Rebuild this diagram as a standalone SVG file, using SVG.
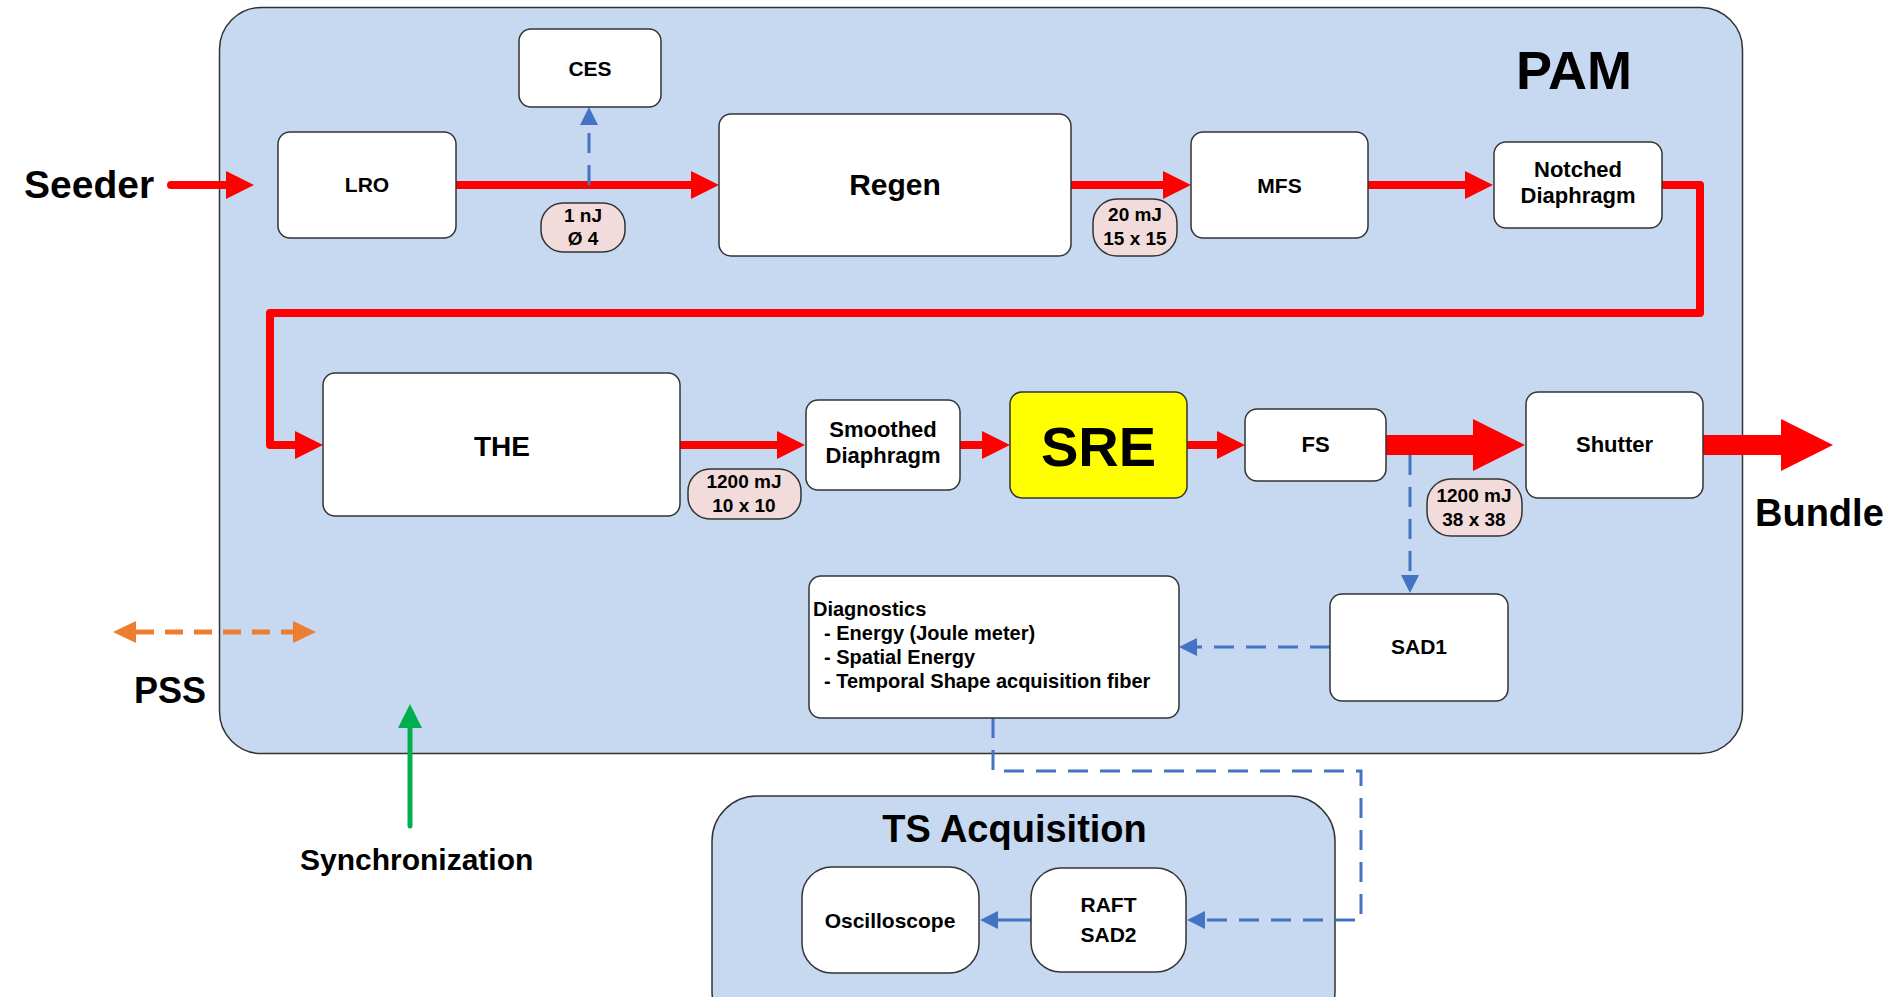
<svg xmlns="http://www.w3.org/2000/svg" width="1891" height="997" viewBox="0 0 1891 997">
<style>
  text { font-family: "Liberation Sans", Arial, sans-serif; font-weight: bold; fill: #000; }
  .c { text-anchor: middle; }
  .box { fill: #ffffff; stroke: #333333; stroke-width: 1.5; }
  .pill { fill: #f2dcdb; stroke: #333333; stroke-width: 1.5; }
  .cont { fill: #c6d9f0; stroke: #333333; stroke-width: 1.5; }
  .red { fill: none; stroke: #ff0000; stroke-width: 8; }
  .redthick { fill: none; stroke: #ff0000; stroke-width: 20; }
  .bdash { fill: none; stroke: #4472c4; stroke-width: 3; stroke-dasharray: 20 12; }
  .bsolid { fill: none; stroke: #4472c4; stroke-width: 3; }
  .odash { fill: none; stroke: #ed7d31; stroke-width: 5; stroke-dasharray: 18 11; }
  .green { fill: none; stroke: #00b050; stroke-width: 5; stroke-linecap: round; }
  .n { font-size: 21px; }
  .l { font-size: 19px; }
</style>
<defs>
  <marker id="hr" markerUnits="userSpaceOnUse" viewBox="0 -14 28 28" refX="0" refY="0" markerWidth="28" markerHeight="28" orient="auto">
    <polygon points="0,-14 28,0 0,14" fill="#ff0000"/>
  </marker>
  <marker id="hrt" markerUnits="userSpaceOnUse" viewBox="0 -26 52 52" refX="0" refY="0" markerWidth="52" markerHeight="52" orient="auto">
    <polygon points="0,-26 52,0 0,26" fill="#ff0000"/>
  </marker>
  <marker id="hb" markerUnits="userSpaceOnUse" viewBox="0 -9 18 18" refX="0" refY="0" markerWidth="18" markerHeight="18" orient="auto">
    <polygon points="0,-9 18,0 0,9" fill="#4472c4"/>
  </marker>
  <marker id="ho" markerUnits="userSpaceOnUse" viewBox="0 -11 23 22" refX="0" refY="0" markerWidth="23" markerHeight="22" orient="auto-start-reverse">
    <polygon points="0,-11 23,0 0,11" fill="#ed7d31"/>
  </marker>
  <marker id="hg" markerUnits="userSpaceOnUse" viewBox="0 -12 24 24" refX="0" refY="0" markerWidth="24" markerHeight="24" orient="auto">
    <polygon points="0,-12 24,0 0,12" fill="#00b050"/>
  </marker>
</defs>

<g id="pam">
  <rect class="cont" x="219.5" y="7.5" width="1523" height="746" rx="42"/>
  <text class="c" x="1574" y="89" font-size="54">PAM</text>
</g>
<g id="ts-acquisition">
  <rect class="cont" x="712" y="796" width="623" height="240" rx="45"/>
  <text class="c" x="1014.5" y="842" font-size="38">TS Acquisition</text>
</g>

<g id="connectors">
  <path class="red" d="M171,185 H226" stroke-linecap="round" marker-end="url(#hr)"/>
  <path class="red" d="M456,185 H691" marker-end="url(#hr)"/>
  <path class="red" d="M1071,185 H1163" marker-end="url(#hr)"/>
  <path class="red" d="M1368,185 H1465" marker-end="url(#hr)"/>
  <path class="red" d="M1662,185 H1700 V313 H270 V445 H295" stroke-linejoin="round" marker-end="url(#hr)"/>
  <path class="red" d="M680,445 H777" marker-end="url(#hr)"/>
  <path class="red" d="M960,445 H982" marker-end="url(#hr)"/>
  <path class="red" d="M1187,445 H1217" marker-end="url(#hr)"/>
  <path class="redthick" d="M1386,445 H1473" marker-end="url(#hrt)"/>
  <path class="redthick" d="M1703,445 H1781" marker-end="url(#hrt)"/>
  <path class="bdash" d="M589,185 V125" stroke-width="2.5" stroke-dasharray="16 10" marker-end="url(#hb)"/>
  <path class="bdash" d="M1410,455 V575" marker-end="url(#hb)"/>
  <path class="bdash" d="M1330,647 H1197" marker-end="url(#hb)"/>
  <path class="bdash" d="M993,718 V771 H1361 V920 H1205" marker-end="url(#hb)"/>
  <path class="bsolid" d="M1031,920 H998" marker-end="url(#hb)"/>
  <path class="odash" d="M136,632 H293" marker-start="url(#ho)" marker-end="url(#ho)"/>
  <path class="green" d="M410,826 V728" marker-end="url(#hg)"/>
</g>

<g id="labels">
  <text x="24" y="198" font-size="39">Seeder</text>
  <text x="1755" y="526" font-size="38">Bundle</text>
  <text x="134" y="703" font-size="36">PSS</text>
  <text x="300" y="870" font-size="30">Synchronization</text>
</g>

<g id="lro"><rect class="box" x="278" y="132" width="178" height="106" rx="12"/><text class="c n" x="367" y="192">LRO</text></g>
<g id="ces"><rect class="box" x="519" y="29" width="142" height="78" rx="12"/><text class="c n" x="590" y="76">CES</text></g>
<g id="regen"><rect class="box" x="719" y="114" width="352" height="142" rx="12"/><text class="c" x="895" y="195" font-size="30">Regen</text></g>
<g id="mfs"><rect class="box" x="1191" y="132" width="177" height="106" rx="12"/><text class="c n" x="1279.5" y="193">MFS</text></g>
<g id="notched-diaphragm"><rect class="box" x="1494" y="142" width="168" height="86" rx="12"/><text class="c" x="1578" y="177" font-size="22">Notched</text><text class="c" x="1578" y="203" font-size="22">Diaphragm</text></g>
<g id="the"><rect class="box" x="323" y="373" width="357" height="143" rx="12"/><text class="c" x="502" y="456" font-size="28">THE</text></g>
<g id="smoothed-diaphragm"><rect class="box" x="806" y="400" width="154" height="90" rx="12"/><text class="c" x="883" y="437" font-size="22">Smoothed</text><text class="c" x="883" y="463" font-size="22">Diaphragm</text></g>
<g id="sre"><rect class="box" x="1010" y="392" width="177" height="106" rx="12" style="fill:#ffff00"/><text class="c" x="1098.5" y="466" font-size="56">SRE</text></g>
<g id="fs"><rect class="box" x="1245" y="409" width="141" height="72" rx="12"/><text class="c" x="1315.5" y="452" font-size="22">FS</text></g>
<g id="shutter"><rect class="box" x="1526" y="392" width="177" height="106" rx="12"/><text class="c" x="1614.5" y="452" font-size="22">Shutter</text></g>
<g id="sad1"><rect class="box" x="1330" y="594" width="178" height="107" rx="12"/><text class="c n" x="1419" y="654">SAD1</text></g>
<g id="diagnostics"><rect class="box" x="809" y="576" width="370" height="142" rx="12"/>
  <text x="813" y="616" font-size="20">Diagnostics</text>
  <text x="824" y="640" font-size="20">- Energy (Joule meter)</text>
  <text x="824" y="664" font-size="20">- Spatial Energy</text>
  <text x="824" y="688" font-size="20">- Temporal Shape acquisition fiber</text>
</g>
<g id="oscilloscope"><rect class="box" x="802" y="867" width="177" height="106" rx="30"/><text class="c n" x="890" y="928">Oscilloscope</text></g>
<g id="raft-sad2"><rect class="box" x="1031" y="868" width="155" height="104" rx="30"/><text class="c n" x="1108.5" y="912">RAFT</text><text class="c n" x="1108.5" y="942">SAD2</text></g>

<g id="label-1nJ"><rect class="pill" x="541" y="203" width="84" height="49" rx="22"/><text class="c l" x="583" y="222">1 nJ</text><text class="c l" x="583" y="245">Ø 4</text></g>
<g id="label-20mJ"><rect class="pill" x="1093" y="199" width="84" height="57" rx="24"/><text class="c l" x="1135" y="221">20 mJ</text><text class="c l" x="1135" y="245">15 x 15</text></g>
<g id="label-1200mJ-a"><rect class="pill" x="688" y="469" width="113" height="50" rx="22"/><text class="c l" x="744" y="488">1200 mJ</text><text class="c l" x="744" y="512">10 x 10</text></g>
<g id="label-1200mJ-b"><rect class="pill" x="1427" y="479" width="95" height="57" rx="24"/><text class="c l" x="1474" y="502">1200 mJ</text><text class="c l" x="1474" y="526">38 x 38</text></g>
</svg>
